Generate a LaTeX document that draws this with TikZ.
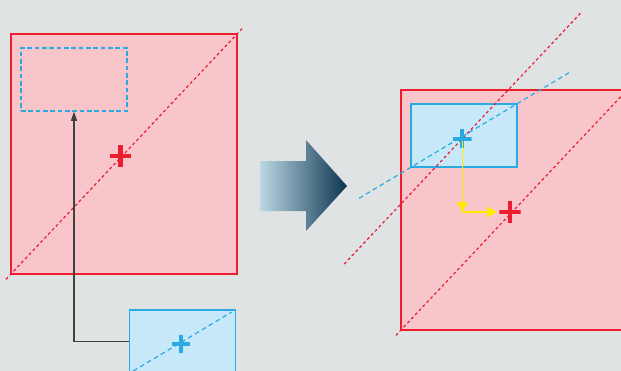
\documentclass[tikz,border=0pt]{standalone}
\usetikzlibrary{arrows.meta,calc}
\definecolor{fondo}{HTML}{DFE3E3}
\definecolor{rojo}{HTML}{ED1C2E}
\definecolor{rosa}{HTML}{F8C5CB}
\definecolor{celeste}{HTML}{29ABE2}
\definecolor{azulclaro}{HTML}{C6E8F8}
\definecolor{amarillo}{HTML}{FFEC00}
\definecolor{flechaclara}{HTML}{BCD8E4}
\definecolor{flechaoscura}{HTML}{0B3450}
\tikzset{
	caja/.style={draw, line width=0.8pt, inner sep=0pt, minimum width=169.5pt, minimum height=180pt},
	cajaroja/.style={caja, draw=rojo, fill=rosa},
	cajaazul/.style={caja, draw=celeste, fill=azulclaro, minimum width=79.5pt, minimum height=47.25pt},
	hueco/.style={cajaazul, fill=none, dash pattern=on 3.5pt off 2pt},
	diagroja/.style={rojo, line width=0.9pt, dash pattern=on 2.2pt off 2pt},
	diagazul/.style={celeste, line width=0.9pt, dash pattern=on 3.5pt off 2.5pt},
	cruz/.style={inner sep=0pt, minimum size=16pt,
		path picture={\draw[line width=3.6pt, #1] (path picture bounding box.north) -- (path picture bounding box.south) (path picture bounding box.west) -- (path picture bounding box.east);}},
	cruzroja/.style={cruz=rojo},
	cruzazul/.style={cruz={celeste, line width=3.1pt}, minimum size=14pt},
	flecha/.style={black!75, line width=0.9pt, -{Triangle[width=4.5pt,length=7pt]}},
	flechaamarilla/.style={amarillo, line width=1.1pt, -{Triangle[width=8pt,length=7.5pt]}}
}
\begin{document}
\begin{tikzpicture}[x=0.75pt, y=-0.75pt]
	\useasboundingbox (0,0) rectangle (621,371);
	\fill[fondo] (0,0) rectangle (621,371);

	% Lado izquierdo
		\node[cajaroja] (rojoIzq) at (124,154) {};
		\node[hueco] (huecoIzq) at (74,79.5) {};
		\draw[diagroja] ($(rojoIzq.south west)!-0.02!(rojoIzq.north east)$) -- ($(rojoIzq.south west)!1.02!(rojoIzq.north east)$);
		\node[cruzroja] (cruzRI) at (120.3,156) {};

		\node[cajaazul] (azulIzq) at (182.5,341.5) {};
		\draw[diagazul] ($(azulIzq.south west)!0.04!(azulIzq.north east)$) -- ($(azulIzq.south west)!0.96!(azulIzq.north east)$);
		\node[cruzazul] (cruzAI) at (181,344) {};
		\draw[flecha] (azulIzq.west) -| (huecoIzq.south);

	% Flecha central
		\shade[left color=flechaclara, right color=flechaoscura] (260,161) -- (306,161) -- (306,140) -- (347,186) -- (306,231) -- (306,211) -- (260,211) -- cycle;

	% Lado derecho
		\node[cajaroja] (rojoDer) at (514,210) {};
		\draw[diagroja] ($(rojoDer.south west)!-0.02!(rojoDer.north east)$) -- ($(rojoDer.south west)!1.02!(rojoDer.north east)$);
		\node[cajaazul] (azulDer) at (464,135.5) {};
		\node[inner sep=0pt] (cruzAD) at (462.3,138.7) {};
		\coordinate (d) at ($(rojoDer.north east)-(rojoDer.south west)$);
		\draw[diagroja] ($(cruzAD)-0.52*(d)$) -- ($(cruzAD)+0.52*(d)$);
		\draw[diagazul] ($(azulDer.south west)!-0.48!(azulDer.north east)$) -- ($(azulDer.south west)!1.48!(azulDer.north east)$);
		\node[cruzazul] at (cruzAD) {};
		\node[cruzroja] (cruzRD) at (510,212) {};

	% Desplazamiento
		\draw[flechaamarilla] ([yshift=-2pt]cruzAD.center) -- (cruzAD |- cruzRD);
		\draw[flechaamarilla, shorten >=1.5pt] (cruzAD |- cruzRD) -- (cruzRD);
\end{tikzpicture}
\end{document}
